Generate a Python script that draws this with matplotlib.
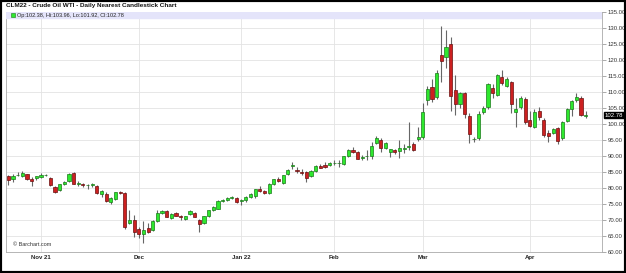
import matplotlib
matplotlib.use("Agg")
import matplotlib.pyplot as plt
from matplotlib.patches import Rectangle

plt.rcParams['font.family'] = ['Liberation Sans', 'DejaVu Sans']

# daily OHLC, Oct 22 2021 .. Apr 20 2022 (trading days)
opens = [83.8, 82.8, 84.0, 83.7, 84.3, 82.9, 83.1, 83.5, 84.0, 83.2,
         80.2, 79.4, 81.1, 82.2, 84.7, 81.4, 81.2, 80.9, 81.0, 80.6,
         78.2, 78.2, 75.6, 76.5, 78.6, 78.5, 69.1, 69.9, 67.1, 65.7,
         67.6, 66.9, 69.8, 72.2, 72.7, 70.6, 72.2, 71.1, 70.4, 71.8,
         72.2, 70.1, 69.2, 71.2, 73.1, 73.5, 76.0, 76.3, 76.8, 76.9,
         76.0, 76.1, 77.2, 77.5, 79.8, 79.1, 78.5, 81.4, 82.9, 81.7,
         84.3, 86.9, 85.6, 85.0, 84.9, 83.6, 85.3, 87.0, 87.1, 87.1,
         87.8, 87.7, 87.6, 89.9, 91.8, 91.3, 89.5, 90.0, 90.1, 94.0,
         95.0, 92.6, 91.2, 91.9, 91.7, 92.3, 92.9, 93.6, 95.2, 96.0,
         107.5, 111.7, 108.3, 121.6, 120.8, 125.0, 110.6, 106.3, 109.8, 102.5,
         95.2, 95.5, 103.9, 105.2, 111.4, 109.1, 114.6, 112.0, 113.1, 103.7,
         105.3, 107.8, 101.4, 99.2, 104.0, 101.4, 97.3, 97.3, 98.6, 95.5,
         101.0, 104.6, 107.5, 108.0, 102.38]
highs = [84.2, 84.3, 85.1, 85.2, 84.5, 83.3, 83.9, 84.8, 84.4, 83.4,
         80.5, 81.3, 82.3, 84.6, 84.9, 82.2, 81.5, 81.4, 81.7, 80.9,
         79.4, 78.6, 77.3, 78.9, 79.0, 78.7, 73.0, 71.5, 67.8, 69.6,
         69.0, 70.0, 73.1, 73.2, 73.0, 72.2, 72.6, 71.6, 71.4, 73.1,
         72.4, 70.3, 71.4, 73.2, 74.4, 76.3, 76.5, 77.1, 77.6, 77.2,
         76.7, 77.5, 78.4, 79.8, 80.5, 79.5, 81.6, 82.9, 83.3, 84.2,
         85.9, 88.0, 86.5, 85.9, 85.2, 85.7, 87.2, 87.4, 88.0, 88.2,
         88.6, 88.8, 90.1, 92.2, 92.7, 91.5, 90.2, 91.8, 94.4, 96.4,
         95.5, 94.3, 92.3, 92.3, 94.9, 93.9, 100.7, 94.5, 99.2, 106.5,
         112.0, 114.0, 116.8, 130.5, 129.3, 127.3, 115.3, 110.0, 110.1, 103.5,
         96.0, 104.0, 105.5, 112.8, 112.5, 115.5, 116.9, 114.6, 113.5, 108.0,
         108.8, 108.3, 104.2, 104.8, 105.4, 101.8, 98.0, 98.9, 99.0, 101.0,
         105.0, 107.5, 109.8, 108.9, 103.96]
lows = [80.8, 81.9, 83.7, 83.4, 82.5, 80.7, 82.5, 83.0, 83.7, 80.5,
        78.4, 79.2, 80.8, 82.0, 81.2, 80.6, 80.4, 79.8, 80.2, 78.2,
        77.2, 75.6, 75.0, 76.2, 78.2, 67.3, 68.8, 64.8, 64.5, 62.7,
        65.8, 66.5, 69.5, 71.9, 70.8, 70.3, 71.2, 69.9, 70.1, 71.5,
        70.8, 66.4, 68.9, 71.0, 72.8, 73.3, 75.6, 75.8, 76.5, 75.3,
        74.6, 75.5, 76.8, 77.0, 78.7, 78.0, 78.2, 81.0, 81.8, 81.3,
        84.0, 86.0, 84.8, 84.0, 82.0, 83.3, 85.0, 86.2, 86.3, 86.8,
        87.3, 86.7, 87.2, 89.6, 91.0, 89.0, 88.7, 88.8, 89.2, 93.6,
        91.3, 92.1, 89.8, 90.7, 89.4, 91.0, 92.0, 91.5, 94.8, 95.2,
        105.8, 106.8, 107.8, 113.0, 117.4, 104.0, 102.8, 105.0, 101.8, 94.0,
        94.5, 95.0, 103.2, 104.6, 108.0, 108.8, 112.2, 111.5, 103.3, 99.0,
        104.8, 100.0, 99.0, 98.9, 101.3, 96.0, 94.5, 96.8, 93.6, 95.0,
        100.6, 102.5, 106.8, 102.5, 101.92]
closes = [82.6, 83.9, 84.2, 84.8, 82.9, 82.2, 83.6, 84.2, 84.1, 81.0,
          78.9, 81.1, 82.0, 84.3, 81.4, 81.5, 80.8, 81.0, 81.1, 78.4,
          79.1, 75.9, 77.0, 78.6, 78.5, 67.8, 70.1, 66.2, 65.7, 66.8,
          66.2, 69.7, 72.3, 72.8, 71.0, 71.9, 71.4, 71.0, 71.2, 72.7,
          71.0, 68.9, 71.2, 73.0, 74.2, 76.0, 76.1, 76.9, 77.3, 75.5,
          76.1, 77.2, 78.1, 79.6, 79.0, 78.3, 81.4, 82.7, 82.1, 84.0,
          85.5, 87.2, 85.3, 84.6, 83.2, 85.3, 87.0, 86.4, 86.6, 87.8,
          87.9, 87.9, 89.9, 92.0, 91.3, 89.2, 89.5, 90.1, 93.2, 95.5,
          92.4, 94.0, 92.1, 91.2, 92.4, 92.5, 93.0, 91.9, 96.0, 103.6,
          110.9, 107.7, 116.0, 119.8, 124.2, 108.9, 106.3, 109.6, 103.1, 96.9,
          95.4, 103.2, 105.0, 112.4, 109.6, 115.3, 112.7, 114.1, 106.2, 104.6,
          108.0, 100.5, 99.4, 103.6, 102.1, 96.5, 96.3, 98.5, 94.7, 100.7,
          104.6, 107.2, 108.3, 102.8, 102.78]

month_pos = [7, 28, 50, 70, 89, 112]  # first trading day of each month
month_labels = ["Nov 21", "Dec", "Jan 22", "Feb", "Mar", "Apr"]
yticks = list(range(60, 136, 5))

fig = plt.figure(figsize=(6.26, 2.73), dpi=100)
ax = fig.add_axes([6/626, 1 - 252/273, 596/626, 240/273])

x = list(range(len(opens)))
up_col, up_edge = "#2ee82e", "#1a7a1a"
dn_col, dn_edge = "#cc2020", "#6a1010"
cols = [up_col if c >= o else dn_col for o, c in zip(opens, closes)]
edges = [up_edge if c >= o else dn_edge for o, c in zip(opens, closes)]
bottoms = [min(o, c) for o, c in zip(opens, closes)]
heights = [max(abs(c - o), 0.15) for o, c in zip(opens, closes)]

ax.vlines(x, lows, highs, color="#666666", linewidth=0.8, zorder=2)  # wicks
ax.bar(x, heights, bottom=bottoms, width=0.68, color=cols, edgecolor=edges,
       linewidth=0.5, zorder=3)

ax.set_xlim(-0.52, 127.5)
ax.set_ylim(60, 135)
ax.set_xticks(month_pos)
ax.set_xticklabels(month_labels, fontsize=4.3, fontweight="bold", color="#222222")
ax.set_yticks(yticks)
ax.set_yticklabels(["%.2f" % v for v in yticks], fontsize=4.3, color="#333333")
ax.yaxis.tick_right()
ax.tick_params(axis="y", length=3, width=0.5, color="#888888", pad=1)
ax.tick_params(axis="x", length=0, pad=2.5)
ax.grid(True, color="#e3e3e3", linewidth=0.6, zorder=0)
ax.set_axisbelow(True)
for s in ax.spines.values():
    s.set_color("#aaaaaa")
    s.set_linewidth(0.6)

# legend band at the top of the plot
ax.axhspan(133.1, 135, color="#e4e4fa", zorder=4)
ax.plot([0.9], [134.05], marker="s", markersize=2.6, color=up_col,
        markeredgecolor=up_edge, markeredgewidth=0.4, zorder=5)
ax.text(1.8, 134.05, "Op:102.38, Hi:103.96, Lo:101.92, Cl:102.78",
        fontsize=4.0, va="center", ha="left", color="#222222", zorder=5)

ax.text(0.012, 62.2, "\u00a9 Barchart.com", transform=ax.get_yaxis_transform(),
        fontsize=4.0, color="#333333", va="center")

# last price tag
ax.annotate("%.2f" % closes[-1], xy=(1.004, closes[-1]),
            xycoords=ax.get_yaxis_transform(), fontsize=4.3, color="white",
            va="center", ha="left",
            bbox=dict(boxstyle="square,pad=0.12", fc="black", ec="black"),
            annotation_clip=False, zorder=6)

fig.text(6/626, 1 - 5.5/273, "CLM22 - Crude Oil WTI - Daily Nearest Candlestick Chart",
         fontsize=4.6, fontweight="bold", va="center", ha="left", color="#111111")

fig.patches.append(Rectangle((0, 0), 1, 1, transform=fig.transFigure, fill=False,
                             edgecolor="black", linewidth=3))

fig.savefig("out.png", dpi=100)
